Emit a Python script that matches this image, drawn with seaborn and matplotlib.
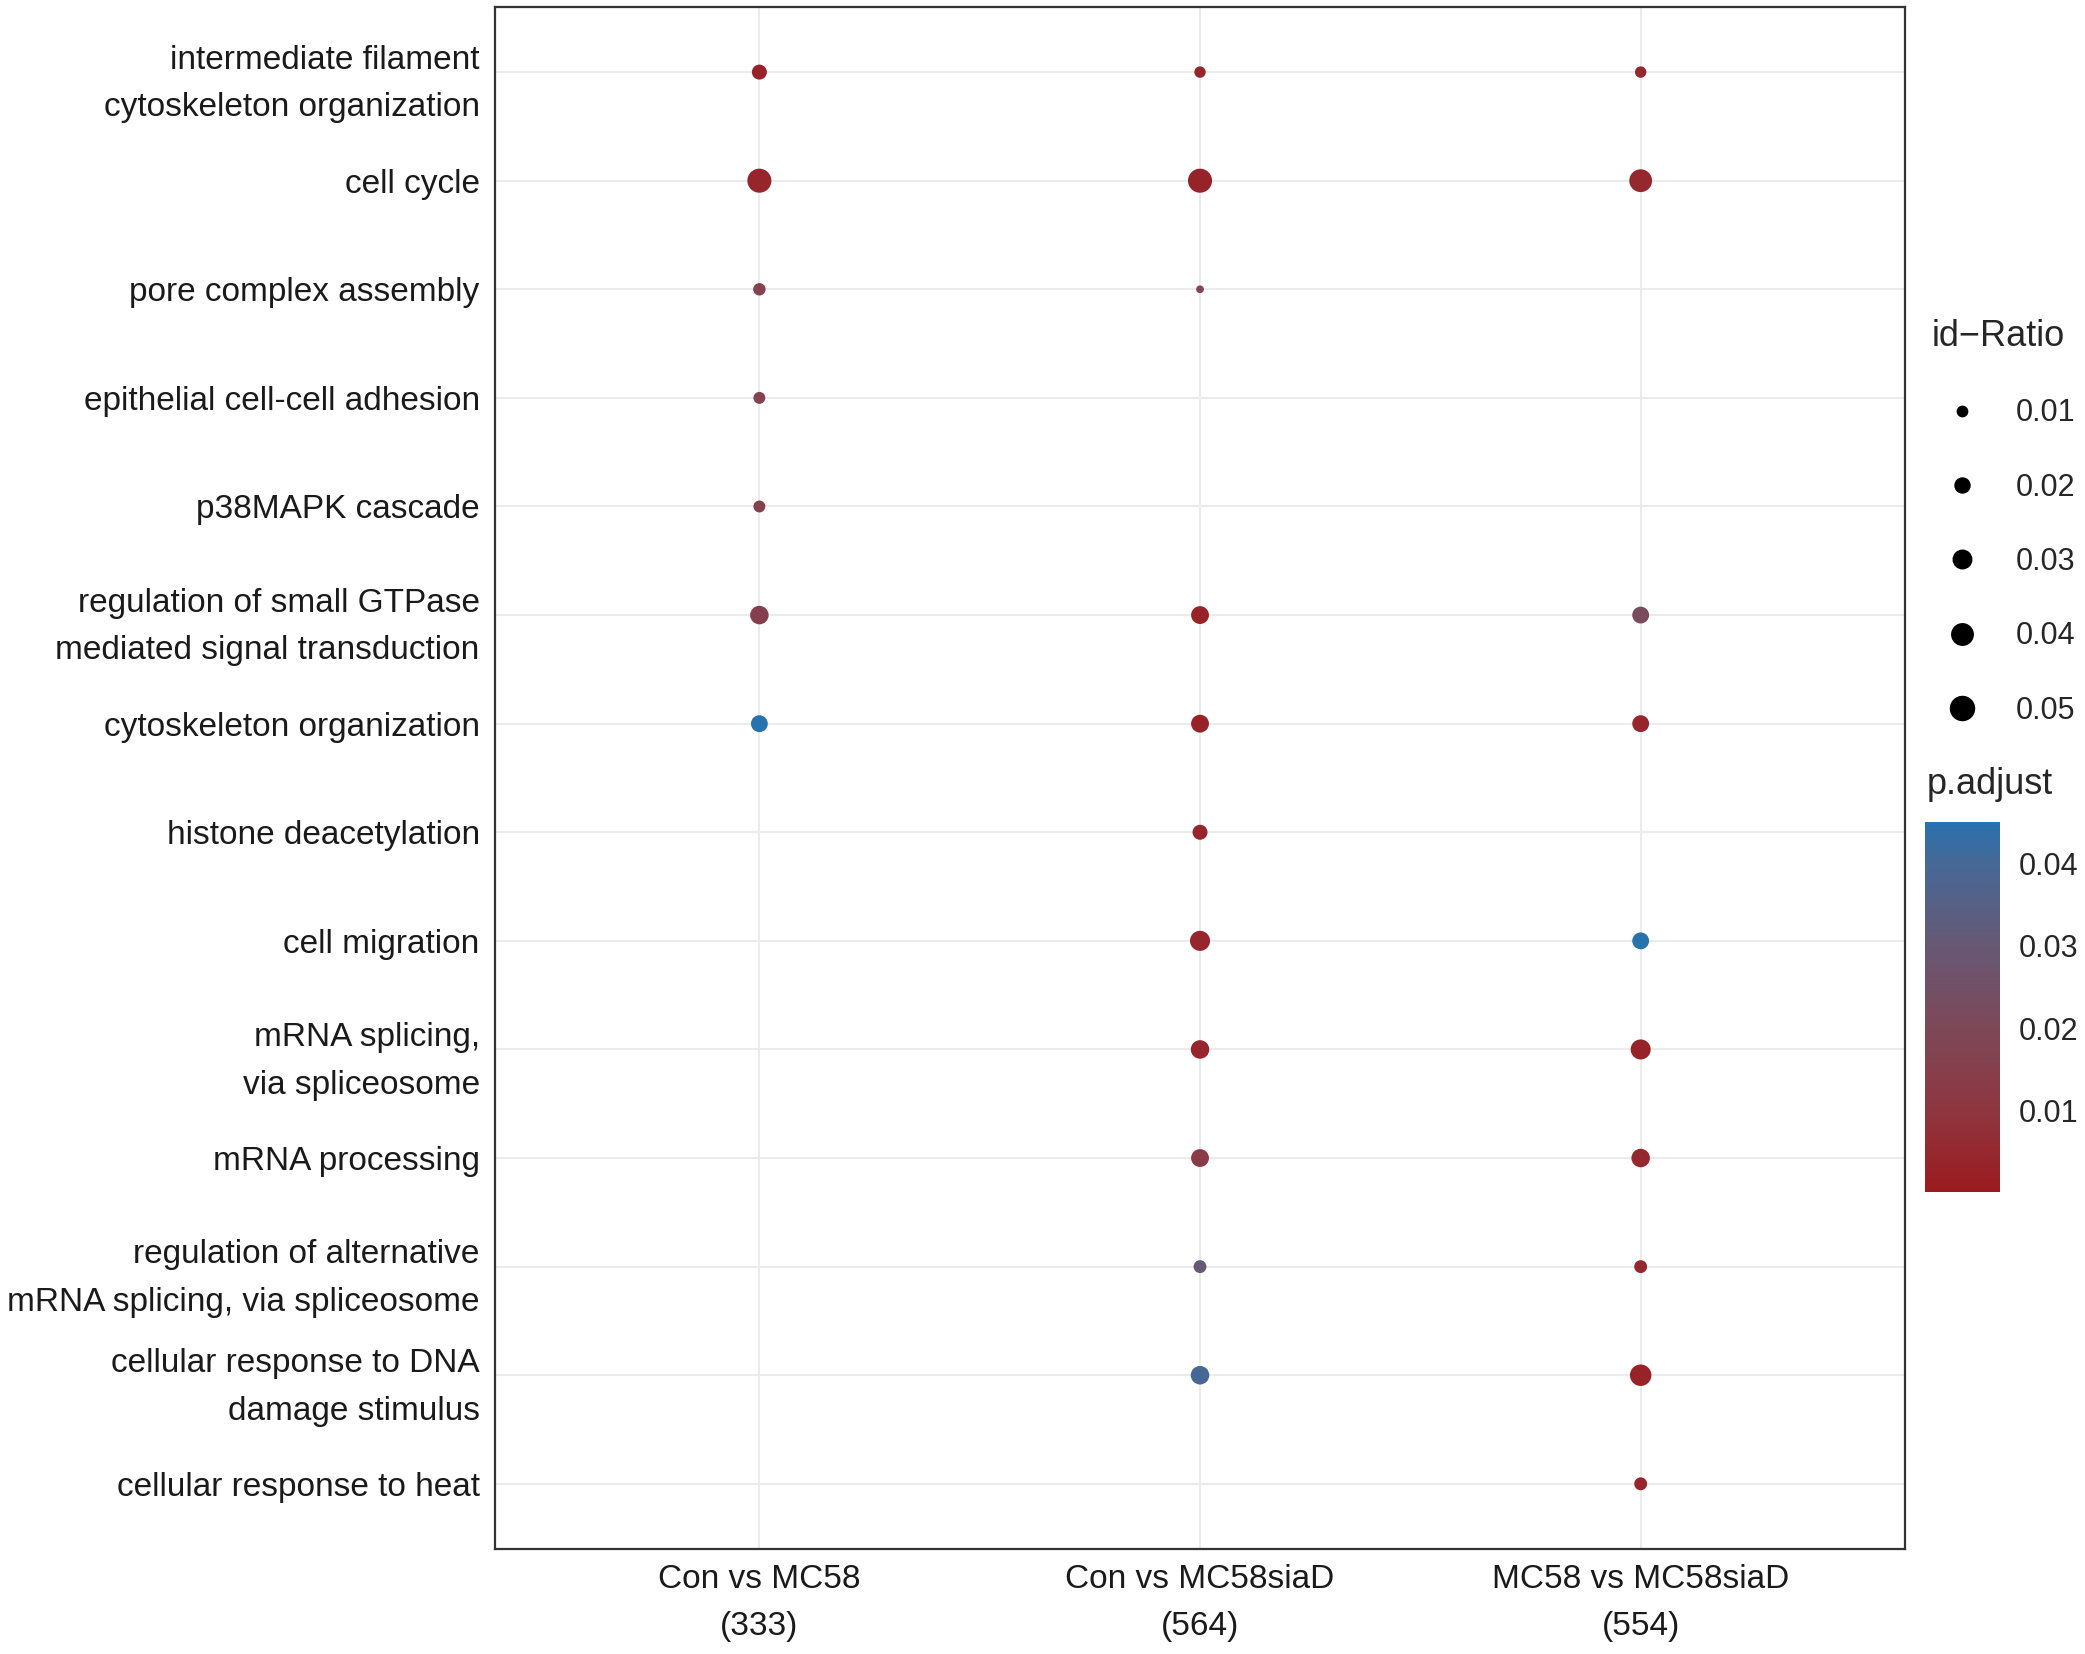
import numpy as np
import pandas as pd
import seaborn as sns
import matplotlib.pyplot as plt
from matplotlib.colors import LinearSegmentedColormap, Normalize
from matplotlib.colorbar import ColorbarBase
from matplotlib.lines import Line2D

# GO terms, top to bottom
terms = [
    "intermediate filament\ncytoskeleton organization",
    "cell cycle",
    "pore complex assembly",
    "epithelial cell-cell adhesion",
    "p38MAPK cascade",
    "regulation of small GTPase\nmediated signal transduction",
    "cytoskeleton organization",
    "histone deacetylation",
    "cell migration",
    "mRNA splicing,\nvia spliceosome",
    "mRNA processing",
    "regulation of alternative\nmRNA splicing, via spliceosome",
    "cellular response to DNA\ndamage stimulus",
    "cellular response to heat",
]
comparisons = ["Con vs MC58\n(333)", "Con vs MC58siaD\n(564)", "MC58 vs MC58siaD\n(554)"]

# id-Ratio per term (None = not enriched)
ratio_con_mc58 = [0.020, 0.050, 0.014, 0.013, 0.013, 0.030, 0.025, None, None, None, None, None, None, None]
ratio_con_siad = [0.012, 0.050, 0.006, None, None, 0.028, 0.028, 0.020, 0.035, 0.030, 0.028, 0.015, 0.030, None]
ratio_mc58_siad = [0.012, 0.045, None, None, None, 0.025, 0.025, None, 0.025, 0.035, 0.030, 0.015, 0.040, 0.015]

# p.adjust per term
padj_con_mc58 = [0.003, 0.004, 0.016, 0.016, 0.016, 0.015, 0.045, None, None, None, None, None, None, None]
padj_con_siad = [0.004, 0.003, 0.019, None, None, 0.003, 0.003, 0.004, 0.004, 0.004, 0.013, 0.030, 0.040, None]
padj_mc58_siad = [0.005, 0.005, None, None, None, 0.022, 0.004, None, 0.045, 0.003, 0.005, 0.005, 0.003, 0.004]

size_breaks = [0.01, 0.02, 0.03, 0.04, 0.05]
color_breaks = [0.01, 0.02, 0.03, 0.04]

rows = []
for i, t in enumerate(terms):
    for c, r, p in zip(comparisons,
                       [ratio_con_mc58, ratio_con_siad, ratio_mc58_siad],
                       [padj_con_mc58, padj_con_siad, padj_mc58_siad]):
        rows.append({"comparison": c, "term": t, "ratio": r[i], "padj": p[i]})
df = pd.DataFrame(rows)
df = df.dropna().reset_index(drop=True)

cmap = LinearSegmentedColormap.from_list(
    "padj", [(0.0, "#9b1b1f"), (0.222, "#8e3640"), (0.443, "#7d4858"),
             (0.665, "#675874"), (0.887, "#476896"), (1.0, "#2872ad")])
pnorm = Normalize(vmin=0.00001, vmax=0.0451)
size_range = (25, 300)
size_lim = (0.005, 0.05)

def size_of(v):
    return size_range[0] + (v - size_lim[0]) / (size_lim[1] - size_lim[0]) * (size_range[1] - size_range[0])

sns.set_style("white")
plt.rcParams["font.family"] = ["Liberation Sans", "DejaVu Sans"]

fig = plt.figure(figsize=(20.85, 16.54), dpi=100)
ax = fig.add_axes([0.2374, 0.0635, 0.6763, 0.9323])

sns.scatterplot(data=df, x="comparison", y="term", size="ratio", sizes=size_range, size_norm=size_lim,
                hue="padj", palette=cmap, hue_norm=pnorm, edgecolor="none", legend=False, ax=ax, zorder=3)

ax.set_xlim(-0.6, 2.6)
ax.set_ylim(13.6, -0.6)
ax.set_xlabel("")
ax.set_ylabel("")
ax.grid(True, color="#ebebeb", linewidth=1.5, zorder=0)
ax.set_axisbelow(True)
for s in ax.spines.values():
    s.set_color("#333333")
    s.set_linewidth(1.6)
ax.tick_params(axis="both", length=5, width=1.2, color="#333333", labelsize=24, labelcolor="#1a1a1a", pad=6)
for lab in ax.get_yticklabels():
    lab.set_linespacing(1.7)
for lab in ax.get_xticklabels():
    lab.set_linespacing(1.65)

# size legend
handles = [Line2D([], [], linestyle="none", marker="o", color="black",
                  markersize=np.sqrt(size_of(v))) for v in size_breaks]
leg = fig.legend(handles, [f"{v:.2f}" for v in size_breaks], title="id\u2212Ratio",
                 loc="upper left", bbox_to_anchor=(0.916, 0.82), frameon=False,
                 prop={"size": 22}, labelspacing=1.45,
                 handletextpad=0.75, borderpad=0.2, alignment="left")
leg.get_title().set_fontsize(26)

# p.adjust colour bar
fig.text(0.924, 0.5254, "p.adjust", fontsize=26, va="center", ha="left")
cax = fig.add_axes([0.9235, 0.2793, 0.0355, 0.2237])
cb = ColorbarBase(cax, cmap=cmap, norm=pnorm, orientation="vertical")
cb.outline.set_visible(False)
cb.set_ticks(color_breaks)
cb.set_ticklabels([f"{v:.2f}" for v in color_breaks])
cax.yaxis.set_ticks_position("both")
cax.tick_params(which="major", direction="in", length=15, width=2, color="white",
                labelleft=False, labelright=True, labelsize=22, pad=14)
cax.tick_params(which="minor", length=0)

fig.savefig("out.png", dpi=100)
